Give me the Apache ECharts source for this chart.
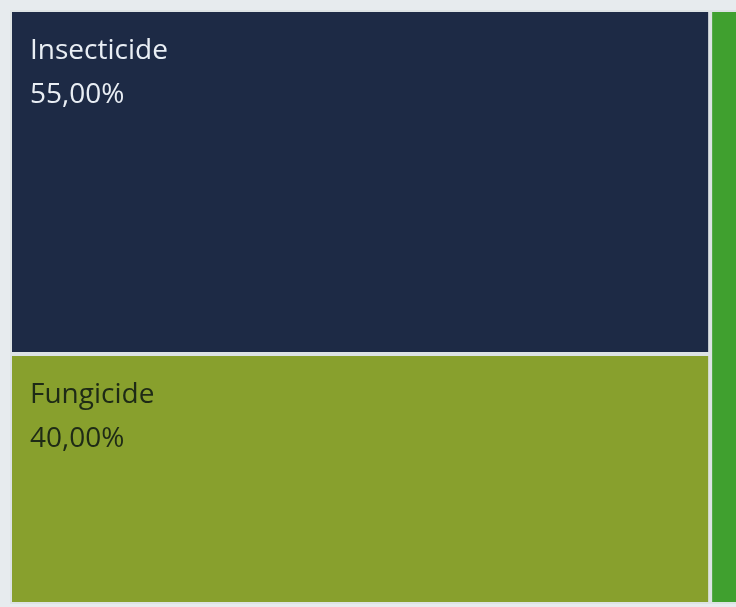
<!DOCTYPE html>
<html>
<head>
<meta charset="utf-8">
<script src="https://cdn.jsdelivr.net/npm/echarts@6/dist/echarts.min.js"></script>
<style>
  html, body { margin: 0; padding: 0; background: #e7ebee; }
  #chart { width: 736px; height: 607px; }
</style>
</head>
<body>
<div id="chart"></div>
<script>
// share of segments (percent)
var names = ['Insecticide', 'Fungicide', 'Herbicide'];
var values = [55, 40, 5];
var colors = ['#1d2a45', '#88a02d', '#40a02f'];
var labelColors = ['#e9eef4', '#1e2a16', '#ffffff'];

var chart = echarts.init(document.getElementById('chart'));

var items = [];
for (var i = 0; i < names.length; i++) {
    items.push({
        name: names[i],
        value: values[i],
        itemStyle: { color: colors[i] },
        label: { color: labelColors[i], show: i < 2 }
    });
}

var option = {
    backgroundColor: '#e7ebee',
    series: [{
        type: 'treemap',
        left: 10,
        top: 10,
        width: 737,
        height: 594,
        roam: false,
        nodeClick: false,
        breadcrumb: { show: false },
        animation: false,
        itemStyle: {
            borderColor: '#dde3e4',
            borderWidth: 1,
            gapWidth: 2
        },
        label: {
            show: true,
            position: 'insideTopLeft',
            padding: [17, 0, 0, 18],
            fontFamily: 'Open Sans',
            fontSize: 28,
            lineHeight: 44,
            formatter: function (p) {
                return p.name + '\n' + p.value.toFixed(2).replace('.', ',') + '%';
            }
        },
        data: items
    }]
};
chart.setOption(option);
</script>
</body>
</html>
